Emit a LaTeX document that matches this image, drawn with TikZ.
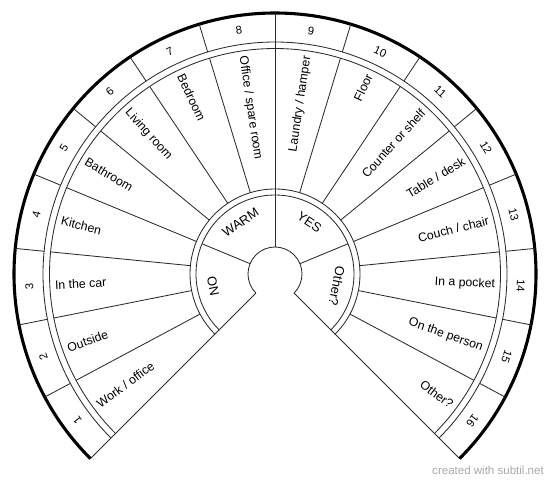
\documentclass[tikz,border=0pt]{standalone}
\usepackage{fontspec}
\setmainfont{Liberation Sans}
\usepackage{tikz}
\definecolor{chartLine}{HTML}{2B2B2B}
\definecolor{markGrey}{HTML}{A8A8A8}

\begin{document}
\begin{tikzpicture}[x=0.025cm, y=0.025cm,
  rim/.style={draw=chartLine, line width=0.6pt},
  thickrim/.style={draw=black, line width=2.2pt},
  leftlabel/.style={anchor=west, inner sep=0pt, font=\fontsize{8.75}{10}\selectfont},
  rightlabel/.style={anchor=east, inner sep=0pt, font=\fontsize{8.75}{10}\selectfont},
  numlabel/.style={inner sep=0pt, font=\fontsize{8}{9}\selectfont},
  answer/.style={inner sep=0pt, font=\fontsize{9.2}{10}\selectfont}]
  \useasboundingbox (-275,-208) rectangle (275,274);
  \coordinate (hub) at (0,0);
  % keyhole and outer edges
  \draw[rim] (225:27) arc[start angle=225, end angle=-45, radius=27] -- (-45:261);
  \draw[rim] (225:27) -- (225:261);
  \draw[thickrim] (225:261) arc[start angle=225, end angle=-45, radius=261];
  % double rings
  \foreach \r in {79,85,225.5,232}
    \draw[rim] (225:\r) arc[start angle=225, end angle=-45, radius=\r];
  % sector lines
  \foreach \i [evaluate=\i as \a using 225-\i*16.875] in {1,...,15} {
    \draw[rim] (\a:85) -- (\a:225.5);
    \draw[rim] (\a:232) -- (\a:261);
  }
  \draw[rim] (90:27) -- (90:261);
  \draw[rim] (157.5:27) -- (157.5:79);
  \draw[rim] (22.5:27) -- (22.5:79);
  % labels, left half
  \foreach \i/\txt [evaluate=\i as \a using 225-(\i-0.5)*16.875] in
    {1/{Work / office}, 2/Outside, 3/{In the car}, 4/Kitchen,
     5/Bathroom, 6/{Living room}, 7/Bedroom, 8/{Office / spare room}}
    \node[leftlabel, rotate=\a+180] (s\i) at (\a:220.5) {\txt};
  % labels, right half
  \foreach \i/\txt [evaluate=\i as \a using 225-(\i-0.5)*16.875] in
    {9/{Laundry / hamper}, 10/Floor, 11/{Counter or shelf}, 12/{Table / desk},
     13/{Couch / chair}, 14/{In a pocket}, 15/{On the person}, 16/{Other?}}
    \node[rightlabel, rotate=\a] (s\i) at (\a:220.5) {\txt};
  % numbers
  \foreach \i [evaluate=\i as \a using 225-(\i-0.5)*16.875] in {1,...,16}
    \node[numlabel, rotate=\a-90] (n\i) at (\a:246) {\i};
  % inner answers
  \node[answer, rotate=-78.75] (on) at (191.25:63) {ON};
  \node[answer, rotate=33.75] (warm) at (123.75:62) {WARM};
  \node[answer, rotate=-33.75] (yes) at (56.25:62) {YES};
  \node[answer, rotate=-101.25] (other) at (-11.25:63) {Other?};
  \node[font=\fontsize{8.2}{9}\selectfont, text=markGrey] (credit) at (213,-196) {created with subtil.net};
\end{tikzpicture}
\end{document}
